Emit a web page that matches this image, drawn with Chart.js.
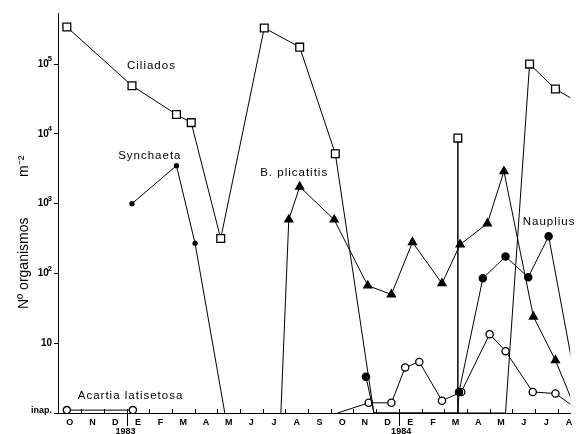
<!DOCTYPE html>
<html>
<head>
<meta charset="utf-8">
<script src="https://cdn.jsdelivr.net/npm/chart.js@4.4.0/dist/chart.umd.min.js"></script>
<style>
  html, body { margin: 0; padding: 0; background: #fff; }
  #wrap { width: 577px; height: 434px; }
</style>
</head>
<body>
<div id="wrap"><canvas id="chart"></canvas></div>
<script>
// months, Oct 1982 -> Aug 1984 (index 0 = first O)
const meses = ['O','N','D','E','F','M','A','M','J','J','A','S','O','N','D','E','F','M','A','M','J','J','A']
const yTicks = [1, 10, 100, 1000, 10000, 100000]
const yTickLabels = ['inap.', '10', '10', '10', '10', '10']
const yTickExp = ['', '', '2', '3', '4', '5']
const anos = ['1983', '1984']
const anosMes = [2.45, 14.6]

// series: x = month index, value = organisms m-2 (0 = none, drawn on base line)
const ciliadosMes = [-0.13, 2.74, 4.7, 5.35, 6.65, 8.57, 10.13, 11.7, 13.4, 17.1, 17.1, 17.1, 19.2, 20.26, 21.4, 22.5]
const ciliados = [340000, 49000, 19000, 14500, 316, 330000, 175000, 5200, 0, 0, 8700, 0, 0, 100000, 44000, 27000]

const synchaetaMes = [2.74, 4.7, 5.52, 6.83]
const synchaeta = [1000, 3500, 270, 0]

const plicatilisMes = [9.3, 9.65, 10.13, 11.65, 13.13, 14.17, 15.1, 16.4, 17.2, 18.4, 19.13, 20.43, 21.4, 22.3]
const plicatilis = [0, 590, 1750, 590, 67, 50, 280, 72, 260, 520, 2900, 24, 5.7, 1.1]

const naupliusMes = [13.05, 13.4, 17.1, 17.15, 18.2, 19.2, 20.2, 21.1, 22.5]
const nauplius = [3.3, 0, 0, 2.0, 85, 175, 88, 340, 1.2]

const acartiaMes = [-0.13, 2.78, 7, 11.8, 13.17, 14.17, 14.78, 15.4, 16.4, 17.25, 18.5, 19.2, 20.4, 21.4, 22.6]
const acartia = [1.1, 1.1, null, 0, 1.4, 1.4, 4.5, 5.4, 1.5, 2.0, 13.5, 7.7, 2.0, 1.9, 1.0]

// text labels on the plot (month, value)
const notas = [
  { text: 'Ciliados', x: 2.52, y: 93000 },
  { text: 'Synchaeta', x: 2.13, y: 4900 },
  { text: 'B. plicatitis', x: 8.39, y: 2800 },
  { text: 'Nauplius', x: 19.96, y: 550 },
  { text: 'Acartia latisetosa', x: 0.35, y: 1.75 }
]

const FONT = '"Liberation Sans", Arial, Helvetica, sans-serif'
Chart.defaults.font.family = FONT
Chart.defaults.color = '#000'

function serie(xs, ys, style, radius, fill) {
  return {
    data: xs.map((x, i) => ({ x: x, y: ys[i] === null ? null : Math.max(ys[i], 1) })),
    borderColor: '#000',
    borderWidth: 1,
    tension: 0,
    spanGaps: false,
    pointStyle: style,
    pointRadius: ctx => ys[ctx.dataIndex] ? radius : 0,
    pointBackgroundColor: fill,
    pointBorderColor: '#000',
    pointBorderWidth: 1.3
  }
}

const anotar = {
  id: 'anotar',
  afterDraw(chart) {
    const { ctx, scales: { x, y } } = chart
    ctx.save()
    ctx.fillStyle = '#000'
    ctx.strokeStyle = '#000'
    // month ticks, pointing up into the plot
    ctx.lineWidth = 1
    x.ticks.forEach(t => {
      if (Number.isInteger(t.value)) return
      const px = Math.round(x.getPixelForValue(t.value)) + 0.5
      const year = t.value === 2.5 || t.value === 14.5
      ctx.beginPath()
      ctx.moveTo(px, y.bottom - 4)
      ctx.lineTo(px, year ? y.bottom + 13 : y.bottom)
      ctx.stroke()
    })
    // y tick labels with exponents
    ctx.textBaseline = 'middle'
    yTicks.forEach((v, i) => {
      const py = y.getPixelForValue(v)
      const right = y.right - 6
      ctx.font = 'bold 7.5px ' + FONT
      const ew = yTickExp[i] ? ctx.measureText(yTickExp[i]).width : 0
      if (ew) { ctx.textAlign = 'right'; ctx.fillText(yTickExp[i], right, py - 5) }
      ctx.font = (i === 0 ? 'bold 9px ' : 'bold 10px ') + FONT
      ctx.textAlign = 'right'
      ctx.fillText(yTickLabels[i], right - (ew ? ew - 1 : 0), i === 0 ? py - 2 : py)
    })
    ctx.font = '11.5px ' + FONT
    ctx.letterSpacing = '1px'
    ctx.textAlign = 'left'
    notas.forEach(n => ctx.fillText(n.text, x.getPixelForValue(n.x), y.getPixelForValue(n.y)))
    ctx.letterSpacing = '0px'
    ctx.font = 'bold 9px ' + FONT
    ctx.textAlign = 'center'
    anos.forEach((t, i) => ctx.fillText(t, x.getPixelForValue(anosMes[i]), 432))
    // y title
    ctx.translate(24, 309)
    ctx.rotate(-Math.PI / 2)
    ctx.textAlign = 'left'
    ctx.font = '14px ' + FONT
    ctx.fillText('Nº organismos', 0, 0)
    ctx.fillText('m⁻²', 132, 0)
    ctx.restore()
  }
}

new Chart(document.getElementById('chart'), {
  type: 'line',
  data: {
    datasets: [
      serie(ciliadosMes, ciliados, 'rect', 5.5, '#fff'),
      serie(synchaetaMes, synchaeta, 'circle', 2, '#000'),
      serie(plicatilisMes, plicatilis, 'triangle', 4.6, '#000'),
      serie(naupliusMes, nauplius, 'circle', 3.6, '#000'),
      serie(acartiaMes, acartia, 'circle', 3.6, '#fff')
    ]
  },
  options: {
    responsive: true,
    maintainAspectRatio: false,
    animation: false,
    layout: { padding: { top: 13, left: 0, right: 0, bottom: 0 } },
    plugins: { legend: { display: false }, tooltip: { enabled: false } },
    scales: {
      x: {
        type: 'linear',
        min: -0.52,
        max: 22.05,
        afterBuildTicks: s => {
          const t = []
          for (let v = -0.5; v <= 22; v += 0.5) t.push({ value: v })
          s.ticks = t
        },
        afterFit: s => { s.height = 21; s.paddingLeft = 0; s.paddingRight = 0 },
        border: { display: true, color: '#000', width: 1 },
        grid: { drawOnChartArea: false, drawTicks: false },
        ticks: {
          autoSkip: false,
          maxRotation: 0,
          padding: 4,
          font: { size: 9, weight: 'bold' },
          callback: v => Number.isInteger(v) ? meses[v] : ''
        }
      },
      y: {
        type: 'logarithmic',
        min: 1,
        max: 540000,
        afterBuildTicks: s => { s.ticks = yTicks.map(v => ({ value: v })) },
        afterFit: s => { s.width = 58; s.paddingTop = 0; s.paddingBottom = 0 },
        border: { display: true, color: '#000', width: 1 },
        grid: { drawOnChartArea: false, tickLength: 4, tickColor: '#000' },
        ticks: { display: false }
      }
    }
  },
  plugins: [anotar]
})
</script>
</body>
</html>
